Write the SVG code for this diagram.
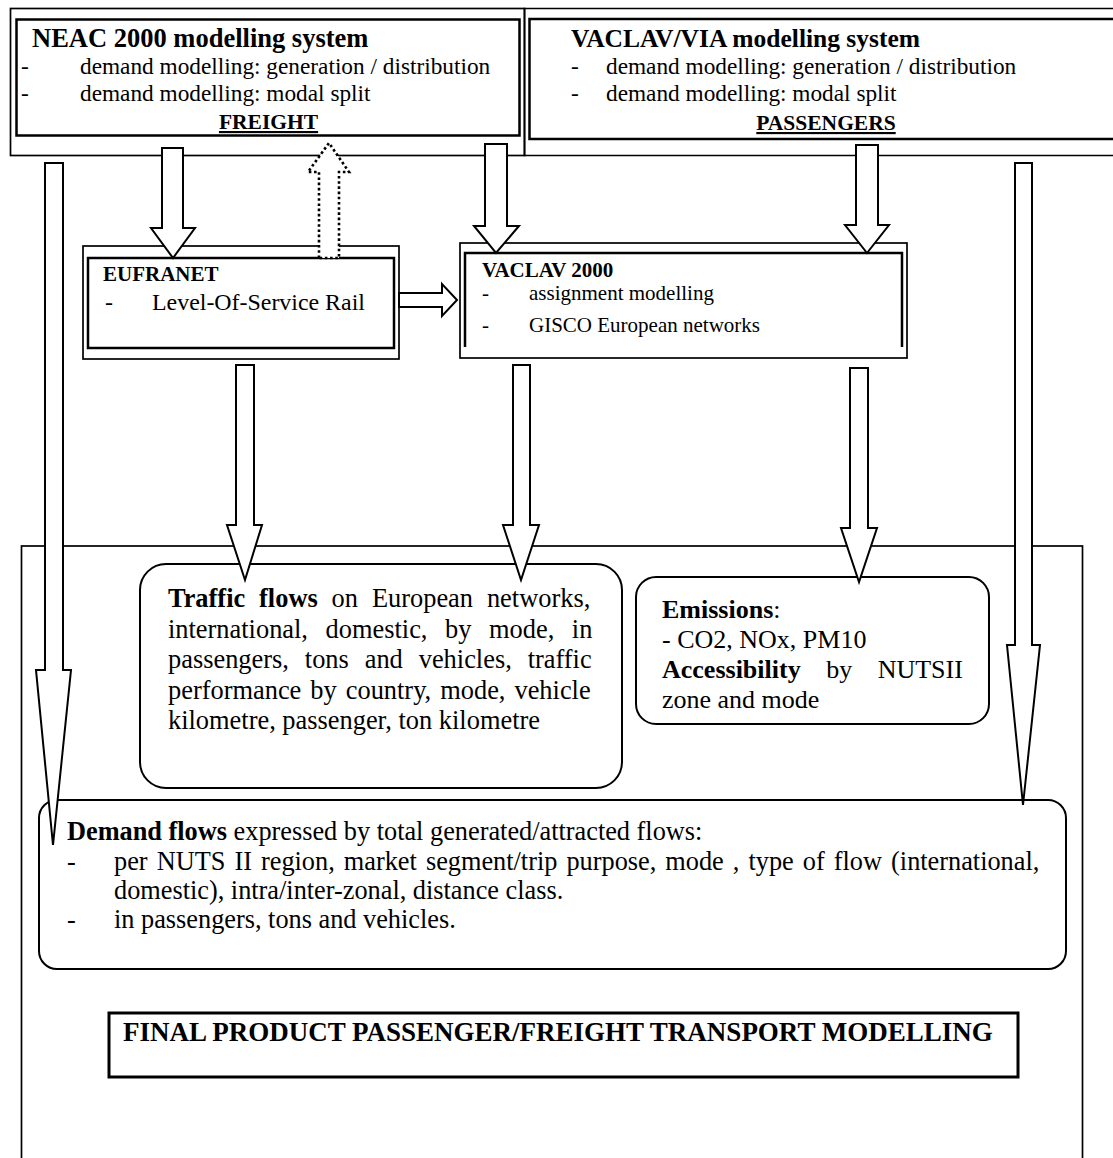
<svg xmlns="http://www.w3.org/2000/svg" width="1113" height="1158" viewBox="0 0 1113 1158">
<style>
text{font-family:"Liberation Serif","Times New Roman",serif;fill:#000}
.b{font-weight:bold}
.box{fill:none;stroke:#000;stroke-width:1.7}
.inner{fill:none;stroke:#000;stroke-width:2.5}
.rbox{fill:#fff;stroke:#000;stroke-width:2}
.arrow{fill:#fff;stroke:#000;stroke-width:2;stroke-linejoin:miter}
.dotted{fill:#fff;stroke:#000;stroke-width:2.6;stroke-dasharray:2.6 2.6}
.t23{font-size:23.3px}
.t21{font-size:21px}
.t26{font-size:26.4px}
</style>
<rect width="1113" height="1158" fill="#fff"/>

<g id="bottom-frame">
<rect class="box" x="21.5" y="546" width="1061" height="640"/>
</g>

<g id="neac">
<rect class="box" x="10.5" y="8.5" width="514" height="147"/>
<rect class="inner" x="16.5" y="19.5" width="503" height="116"/>
<text class="b" x="32" y="47" font-size="26.5">NEAC 2000 modelling system</text>
<text class="t23" x="21" y="74">-</text>
<text class="t23" x="80" y="74">demand modelling: generation / distribution</text>
<text class="t23" x="21" y="101">-</text>
<text class="t23" x="80" y="101">demand modelling: modal split</text>
<text class="b" x="268.5" y="129" font-size="21.5" text-anchor="middle" text-decoration="underline">FREIGHT</text>
</g>

<g id="vaclav-via">
<path class="box" d="M1120 8.5 H524.5 V155.5 H1120"/>
<path class="inner" d="M1120 19 H529.5 V139 H1120"/>
<text class="b" x="571" y="47" font-size="25.5">VACLAV/VIA modelling system</text>
<text class="t23" x="571" y="74">-</text>
<text class="t23" x="606" y="74">demand modelling: generation / distribution</text>
<text class="t23" x="571" y="101">-</text>
<text class="t23" x="606" y="101">demand modelling: modal split</text>
<text class="b" x="826" y="130" font-size="21.5" text-anchor="middle" text-decoration="underline">PASSENGERS</text>
</g>

<g id="eufranet">
<rect class="box" x="83" y="246" width="316" height="113" fill="#fff"/>
<rect class="inner" x="88" y="258" width="306" height="90"/>
<text class="b t21" x="103" y="281">EUFRANET</text>
<text x="105" y="310" font-size="23.9">-</text>
<text x="152" y="310" font-size="23.9">Level-Of-Service Rail</text>
</g>

<g id="vaclav2000">
<rect class="box" x="460" y="243" width="447" height="115" stroke-width="2"/>
<path class="inner" d="M465 347 V253 H902 V347"/>
<text class="b t21" x="482" y="277">VACLAV 2000</text>
<text class="t21" x="482" y="300">-</text>
<text class="t21" x="529" y="300">assignment modelling</text>
<text class="t21" x="482" y="332">-</text>
<text class="t21" x="529" y="332">GISCO European networks</text>
</g>

<g id="traffic-flows">
<rect class="rbox" x="140" y="564" width="482" height="224" rx="26" ry="26"/>
<text class="t26" x="168" y="607" word-spacing="7.3"><tspan class="b">Traffic flows</tspan> on European networks,</text>
<text class="t26" x="168" y="637.5" word-spacing="11">international, domestic, by mode, in</text>
<text class="t26" x="168" y="668" word-spacing="9.3">passengers, tons and vehicles, traffic</text>
<text class="t26" x="168" y="698.5" word-spacing="2.4">performance by country, mode, vehicle</text>
<text class="t26" x="168" y="729">kilometre, passenger, ton kilometre</text>
</g>

<g id="emissions">
<rect class="rbox" x="636" y="577" width="353" height="147" rx="20" ry="20"/>
<text x="662" y="618" font-size="26"><tspan class="b">Emissions</tspan>:</text>
<text x="662" y="648" font-size="26">- CO2, NOx, PM10</text>
<text x="662" y="678" font-size="26" word-spacing="19"><tspan class="b">Accessibility</tspan> by NUTSII</text>
<text x="662" y="708" font-size="26">zone and mode</text>
</g>

<g id="demand-flows">
<rect class="rbox" x="39" y="800" width="1027" height="169" rx="18" ry="18"/>
<text x="67" y="840" font-size="26.3"><tspan class="b">Demand flows</tspan> expressed by total generated/attracted flows:</text>
<text x="67" y="870" font-size="26.3">-</text>
<text x="114" y="870" font-size="26.3" word-spacing="2.5">per NUTS II region, market segment/trip purpose, mode , type of flow (international,</text>
<text x="114" y="899" font-size="26.3">domestic), intra/inter-zonal, distance class.</text>
<text x="67" y="928" font-size="26.3">-</text>
<text x="114" y="928" font-size="26.3">in passengers, tons and vehicles.</text>
</g>

<g id="final-product">
<rect x="109" y="1013" width="909" height="64" fill="none" stroke="#000" stroke-width="3"/>
<text class="b" x="123" y="1041" font-size="27">FINAL PRODUCT PASSENGER/FREIGHT TRANSPORT MODELLING</text>
</g>

<g id="connectors">
<path class="arrow" d="M45 163 H63 V670 H71 L53 845 L36 670 H45 Z"/>
<path class="arrow" d="M162 148 H183 V228 H195 L173 258 L151 228 H162 Z"/>
<path class="dotted" d="M319 258 V172 H308 L329 143 L349 172 H339 V258 Z"/>
<path class="arrow" d="M485 144 H507 V226 H519 L496 253 L474 226 H485 Z"/>
<path class="arrow" d="M856 145 H878 V225 H889 L867 253 L845 225 H856 Z"/>
<path class="arrow" d="M1015 163 H1032 V645 H1040 L1023 805 L1007 645 H1015 Z"/>
<path class="arrow" d="M399 293 H442 V284 L457 300 L442 316 V307 H399 Z"/>
<path class="arrow" d="M236 365 H254 V525 H262 L245 580 L227 525 H236 Z"/>
<path class="arrow" d="M513 365 H530 V525 H539 L521 580 L503 525 H513 Z"/>
<path class="arrow" d="M850 368 H868 V528 H877 L859 582 L841 528 H850 Z"/>
</g>
</svg>
